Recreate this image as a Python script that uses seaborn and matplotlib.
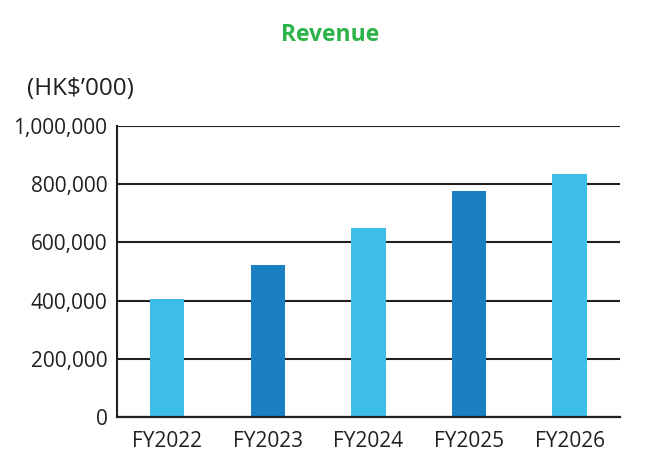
import numpy as np
import pandas as pd
import seaborn as sns
import matplotlib.pyplot as plt
from matplotlib.ticker import FuncFormatter

sns.set_style("white")
plt.rcParams['font.family'] = ['Open Sans', 'DejaVu Sans']

# data (HK$'000)
years = ["FY2022", "FY2023", "FY2024", "FY2025", "FY2026"]
revenue = [405000, 521000, 648000, 777000, 834000]
bar_colors = ["#3DBEE8", "#1A7FC3", "#3DBEE8", "#1A7FC3", "#3DBEE8"]

df = pd.DataFrame({"year": years, "revenue": revenue})

fig = plt.figure(figsize=(6.47, 4.71), dpi=100)
ax = fig.add_axes([0.181, 0.1146, 0.777, 0.618])

sns.barplot(data=df, x="year", y="revenue", hue="year", palette=bar_colors,
            width=0.34, legend=False, ax=ax, saturation=1, linewidth=0)

ax.set_ylim(0, 1000000)
ax.set_yticks(np.arange(0, 1000001, 200000))
ax.yaxis.set_major_formatter(FuncFormatter(lambda v, p: f"{int(v):,}"))
ax.set_axisbelow(True)
ax.grid(axis="y", color="#231F20", linewidth=1.5)
ax.set_xlabel("")
ax.set_ylabel("")
ax.tick_params(axis="both", length=0, labelsize=15, colors="#231F20")
ax.tick_params(axis="y", pad=7)
ax.tick_params(axis="x", pad=10)

for s in ["top", "right"]:
    ax.spines[s].set_visible(False)
ax.spines["left"].set_color("#231F20")
ax.spines["left"].set_linewidth(1.5)
ax.spines["bottom"].set_color("#231F20")
ax.spines["bottom"].set_linewidth(1.6)

fig.text(0.511, 0.926, "Revenue", ha="center", va="center", fontsize=16.5,
         fontweight="bold", color="#2DB34A")
fig.text(0.041, 0.810, "(HK$\u2019000)", ha="left", va="center", fontsize=17.5,
         color="#231F20")

fig.savefig("out.png", dpi=100)
